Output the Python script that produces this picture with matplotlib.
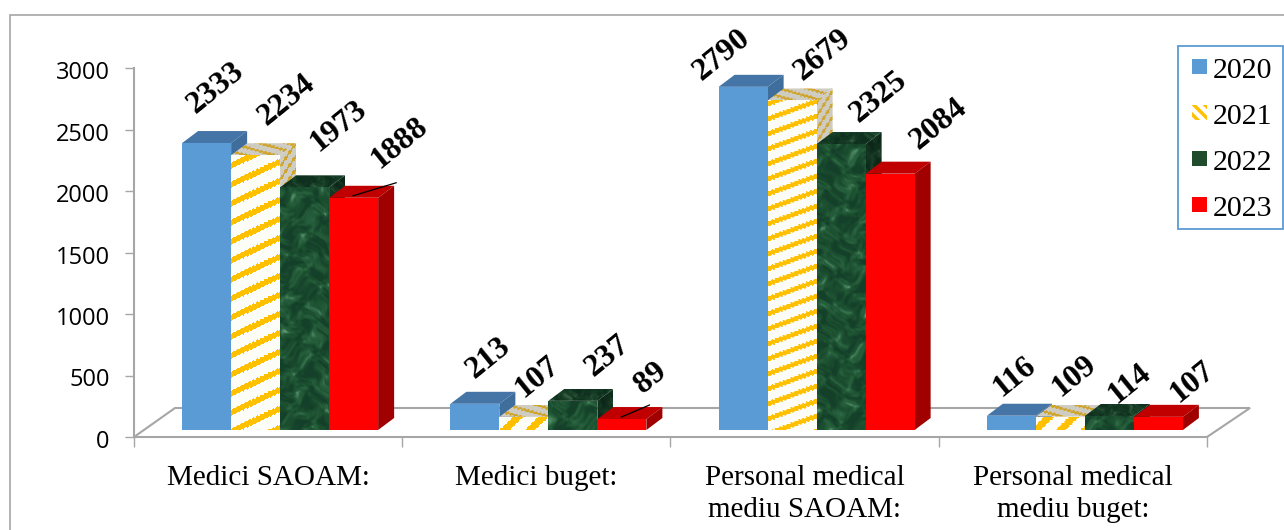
import numpy as np
import matplotlib
matplotlib.use("Agg")
import matplotlib.pyplot as plt
from matplotlib.patches import Polygon, Patch, Rectangle
from matplotlib.transforms import Affine2D, IdentityTransform
from matplotlib.lines import Line2D
from matplotlib.colors import LinearSegmentedColormap
from matplotlib.legend_handler import HandlerPatch

categories = ["Medici SAOAM:", "Medici buget:", "Personal medical\nmediu SAOAM:", "Personal medical\nmediu buget:"]
years = ["2020", "2021", "2022", "2023"]
values_2020 = [2333, 213, 2790, 116]
values_2021 = [2234, 107, 2679, 109]
values_2022 = [1973, 237, 2325, 114]
values_2023 = [1888, 89, 2084, 107]
y_ticks = [0, 500, 1000, 1500, 2000, 2500, 3000]

# ---- layout (pixels of the 1284x530 picture) ----
W, H = 1284, 530
AX_L, AX_R, AX_T, AX_B = 134, 1207, 68, 437
SHIFT = (12, 7)
DEPTH = (16, 12)
LABEL_OFFSET = {
    0: [(9, -55), (31, -55), (34, -61), (46, -55)],
    1: [(14, -46), (14, -40), (35, -45), (29, -41)],
    2: [(-21, -32), (31, -45), (38, -47), (49, -50)],
    3: [(3, -39), (14, -40), (20, -32), (34, -35)],
}
STRIPE_PERIOD = [19, 24, 15, 24]
STRIPE_SLOPE = [-0.47, -0.95, -0.36, -0.95]
STRIPE_FRAC = [0.33, 0.4, 0.33, 0.4]

SERIF = "Liberation Serif"
plt.rcParams["font.family"] = SERIF
plt.rcParams["hatch.linewidth"] = 2.5

fig = plt.figure(figsize=(W / 100, H / 100), dpi=100, facecolor="white")
ax = fig.add_axes([AX_L / W, 1 - AX_B / H, (AX_R - AX_L) / W, (AX_B - AX_T) / H])
ax.set_xlim(0, 4)
ax.set_ylim(0, 3000)
ax.patch.set_alpha(0)

GRAY = "#a6a6a6"
for s in ("top", "right"):
    ax.spines[s].set_visible(False)
for s in ("left", "bottom"):
    ax.spines[s].set_color(GRAY)
    ax.spines[s].set_linewidth(1.5)
ax.set_yticks(y_ticks)
ax.tick_params(axis="y", length=6.5, width=1, color=GRAY, pad=11, labelsize=17)
ax.set_xticks(range(5))
ax.set_xticklabels([])
ax.tick_params(axis="x", which="major", length=7.5, width=1, color=GRAY)
ax.set_xticks(np.arange(4) + 0.5, categories, minor=True)
ax.tick_params(axis="x", which="minor", length=0, pad=20.2, labelsize=21)
for t in ax.get_xticklabels(minor=True):
    t.set_linespacing(1.28)
for tick in ax.yaxis.get_major_ticks():
    tick.label1.set_family("Open Sans")
    tick.label1.set_transform(tick.label1.get_transform() + Affine2D().translate(0, -2))

# outer border, clipped by the picture edges
fig.add_artist(Rectangle((9.5, -10), W + 20, H - 14.5 + 10, transform=IdentityTransform(),
                         fill=False, edgecolor=GRAY, linewidth=1.2))

px_x = (AX_R - AX_L) / 4
px_y = (AX_B - AX_T) / 3000
dx = DEPTH[0] / px_x
dy = DEPTH[1] / px_y
bar_tf = ax.transData + Affine2D().translate(*SHIFT)

# floor (back edges)
floor = Polygon([(0, 0), (41 / px_x, 29 / px_y), (4 + 43 / px_x, 29 / px_y), (4, 0)], closed=False,
                fill=False, edgecolor=GRAY, linewidth=1.5, clip_on=False, zorder=1)
ax.add_patch(floor)


def marble(X, Y):
    """Soft cloudy texture: sine waves running in many directions, with warped coordinates."""
    u = X + 6 * np.sin(Y / 11.0 + 0.6) + 3 * np.sin((X + Y) / 5.0)
    t = Y + 6 * np.sin(X / 9.0 + 2.1) + 3 * np.sin((X - Y) / 6.0)
    v = np.zeros_like(u, dtype=float)
    for ang, wl, ph, amp in [(0.3, 31, 0.2, 1.0), (1.2, 23, 1.9, 1.0), (2.1, 17, 3.1, 0.9), (2.8, 13, 4.4, 0.7),
                             (0.8, 9, 5.3, 0.55), (1.7, 7, 0.7, 0.45), (2.5, 5, 2.6, 0.3), (0.1, 4, 4.0, 0.25)]:
        v += amp * np.sin((u * np.cos(ang) + t * np.sin(ang)) * 2 * np.pi / wl + ph)
    return np.clip(0.3 + v / 6.5, 0, 1)


marble_cmap = LinearSegmentedColormap.from_list("m", ["#14402a", "#1c5030", "#2a6340", "#5f9874"])


def stripes(X, Y, slope, period, frac):
    wobble = 0.7 * np.sin(X * 1.6)
    return ((Y - slope * X + wobble) % period) < period * frac


def textured(poly, fn, z):
    """Paint an RGB array fn(X, Y) inside a polygon given in data coordinates."""
    p = Polygon(poly, closed=True, facecolor="none", edgecolor="none", transform=bar_tf, clip_on=False, zorder=z)
    ax.add_patch(p)
    xs = [q[0] for q in poly]
    ys = [q[1] for q in poly]
    l, r, b, t = min(xs), max(xs), min(ys), max(ys)
    nx = max(int(np.ceil((r - l) * px_x)), 1)
    ny = max(int(np.ceil((t - b) * px_y)), 1)
    X, Y = np.meshgrid(l * px_x + np.arange(nx), np.arange(ny) - t * px_y)
    im = ax.imshow(fn(X, Y), extent=(l, r, b, t), origin="upper", aspect="auto",
                   interpolation="bilinear", transform=bar_tf, zorder=z)
    im.set_clip_path(p)
    return im


def two_colour(mask, c_on, c_off):
    on = np.array(matplotlib.colors.to_rgb(c_on))
    off = np.array(matplotlib.colors.to_rgb(c_off))
    return np.where(mask[..., None], on, off)


series = [values_2020, values_2021, values_2022, values_2023]
front_col = ["#5b9bd5", "#ffffff", "#1f4d2c", "#ff0000"]
top_col = ["#4475a6", "#cfccc2", "#1b3f25", "#c00000"]
side_col = ["#3f6e9c", "#cfccc2", "#183a22", "#a00000"]
w = 49 / px_x

for c in range(4):
    per = STRIPE_PERIOD[c]
    slope = STRIPE_SLOPE[c]
    frac = STRIPE_FRAC[c]
    for j, vals in enumerate(series):
        v = vals[c]
        x0 = c + 0.5 + (j - 2) * w
        z = 10 + 10 * c + 3 * j
        top = [(x0, v), (x0 + w, v), (x0 + w + dx, v + dy), (x0 + dx, v + dy)]
        side = [(x0 + w, 0), (x0 + w + dx, dy), (x0 + w + dx, v + dy), (x0 + w, v)]
        if j == 1:
            textured(top, lambda X, Y: two_colour(stripes(X, Y, 0.28, 8, 0.32), "#d0a52c", "#cfccc2"), z)
            textured(side, lambda X, Y: two_colour(stripes(X, Y, -1.5, 13, 0.3), "#cfa631", "#cfccc2"), z)
        elif j == 2:
            textured(top, lambda X, Y: marble_cmap(marble(X * 1.5, Y * 1.5))[..., :3] * 0.72, z)
            textured(side, lambda X, Y: marble_cmap(marble(X * 1.5, Y))[..., :3] * 0.62, z)
        else:
            ax.add_patch(Polygon(top, closed=True, facecolor=top_col[j], edgecolor="none",
                                 transform=bar_tf, clip_on=False, zorder=z))
            ax.add_patch(Polygon(side, closed=True, facecolor=side_col[j], edgecolor="none",
                                 transform=bar_tf, clip_on=False, zorder=z))
        ax.bar(x0, v, w, align="edge", color=front_col[j], linewidth=0,
               transform=bar_tf, clip_on=False, zorder=z + 1)
        front = [(x0, 0), (x0 + w, 0), (x0 + w, v), (x0, v)]
        if j == 1:
            textured(front, lambda X, Y, p=per, s=slope, f=frac: two_colour(stripes(X, Y, s, p, f), "#ffc000", "#fdfdf8"), z + 2)
        elif j == 2:
            textured(front, lambda X, Y: marble_cmap(marble(X, Y))[..., :3], z + 2)

# data labels
for c in range(4):
    for j, vals in enumerate(series):
        v = vals[c]
        x0 = c + 0.5 + (j - 2) * w
        off = LABEL_OFFSET[c][j]
        ax.annotate(str(v), xy=(x0 + w / 2, v), xycoords="data",
                    xytext=(off[0] + SHIFT[0], -off[1] + SHIFT[1]), textcoords="offset pixels",
                    ha="center", va="center", rotation=39, rotation_mode="anchor",
                    fontsize=23, fontweight="bold", color="black", zorder=100)

# leader lines of the two labels that sit away from their bars
for c, j, start, end in [(0, 3, (24, 2), (67, 15)), (1, 3, (24, 2), (52, 14))]:
    x0 = c + 0.5 + (j - 2) * w
    v = series[j][c]
    ax.add_line(Line2D([x0 + start[0] / px_x, x0 + end[0] / px_x],
                       [v + start[1] / px_y, v + end[1] / px_y],
                       color="black", linewidth=0.9, transform=bar_tf, clip_on=False, zorder=90))


def square_handle(legend, orig_handle, xdescent, ydescent, width, height, fontsize):
    side_pt = 10.8
    return Rectangle((width - side_pt - xdescent, -ydescent + (height - side_pt) / 2 + 0.7), side_pt, side_pt)


# legend: its box is drawn apart so that it can keep the reference's height
fig.add_artist(Rectangle((1177.5, H - 229), 105.5, 183, transform=IdentityTransform(),
                         facecolor="white", edgecolor="#5b9bd5", linewidth=1.3, zorder=150))
handles = [Patch(facecolor="#5b9bd5", edgecolor="none"),
           Patch(facecolor="white", edgecolor="#ffc000", hatch="\\\\\\", linewidth=0),
           Patch(facecolor="#1f4d2c", edgecolor="none"),
           Patch(facecolor="#ff0000", edgecolor="none")]
leg = fig.legend(handles, years, loc="upper left", bbox_to_anchor=(1177 / W, 1 - 46 / H),
                 bbox_transform=fig.transFigure, fontsize=21.5, frameon=False,
                 handlelength=0.6, handleheight=0.55, handletextpad=0.2, labelspacing=0.67,
                 borderpad=0.4, borderaxespad=0, labelcolor="black",
                 handler_map={Patch: HandlerPatch(patch_func=square_handle)})
leg.set_zorder(200)

fig.savefig("out.png", dpi=100)
